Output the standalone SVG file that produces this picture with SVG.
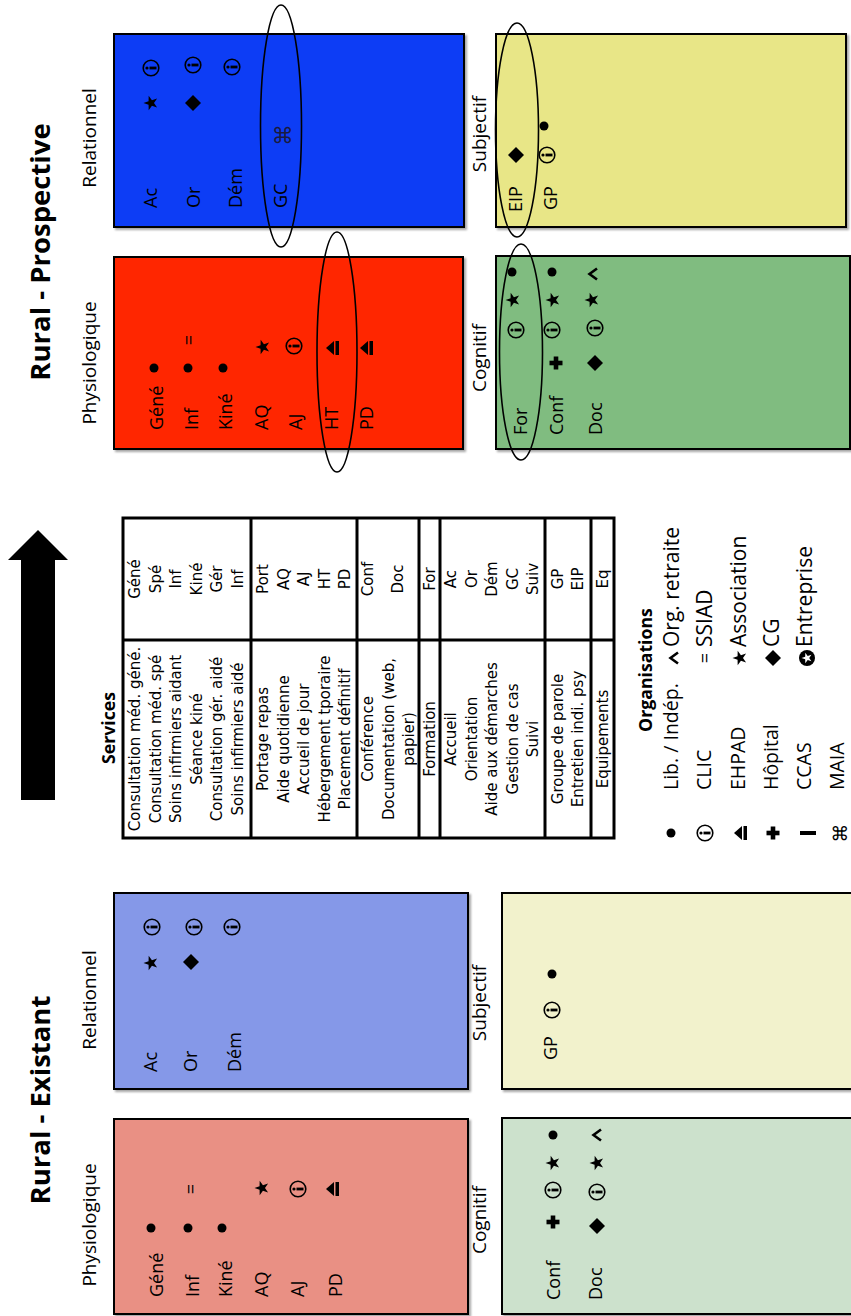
<svg xmlns="http://www.w3.org/2000/svg" xmlns:xlink="http://www.w3.org/1999/xlink" width="851" height="1316" viewBox="0 0 851 1316">
<defs>
<style>
text{font-family:'Open Sans','Liberation Sans',sans-serif;fill:#000}
.lbl{font-size:19px;text-anchor:middle}
.bx{font-size:18px}
.ttl{font-size:27.5px;font-weight:bold;text-anchor:middle}
.hdr{font-size:17.7px;font-weight:bold;text-anchor:middle}
.lg{font-size:19.5px}
.lg2{font-size:21px}
.tb{font-family:'DejaVu Sans',sans-serif;font-size:15px;text-anchor:middle}
.eq{font-size:18px;text-anchor:middle}
.cmd{font-family:'DejaVu Sans',sans-serif;text-anchor:middle}
.box{stroke:#000;stroke-width:2;filter:url(#sh)}
.ell{fill:none;stroke:#000;stroke-width:1.6}
.tline{stroke:#000;stroke-width:3;fill:none}
</style>
<filter id="sh" x="-10%" y="-10%" width="120%" height="120%">
<feDropShadow dx="-2" dy="2" stdDeviation="1.2" flood-color="#000" flood-opacity="0.35"/>
</filter>
<circle id="dot" r="4.5"/>
<polygon id="star" points="0,-7.5 1.76,-2.43 7.13,-2.32 2.85,0.93 4.41,6.07 0,3 -4.41,6.07 -2.85,0.93 -7.13,-2.32 -1.76,-2.43"/>
<polygon id="dia" points="0,-8 8,0 0,8 -8,0"/>
<g id="info"><circle r="7.8" fill="none" stroke="#000" stroke-width="1.6"/><circle cx="0" cy="-4" r="1.6"/><rect x="-1.4" y="-1.5" width="2.8" height="7"/></g>
<g id="eject"><polygon points="0,-7 7,1 -7,1"/><rect x="-7" y="2.5" width="14" height="3.5"/></g>
<g id="plus"><rect x="-6.5" y="-2.3" width="13" height="4.6"/><rect x="-2.3" y="-6.5" width="4.6" height="13"/></g>
<rect id="vbar" x="-2" y="-8" width="4" height="16"/>
<path id="caret" d="M-5.5,4 L0,-3.5 L5.5,4" fill="none" stroke="#000" stroke-width="2.6"/>
<g id="ent"><circle r="8"/><polygon fill="#fff" points="0,-5.5 1.3,-1.8 5.2,-1.7 2.1,0.7 3.2,4.4 0,2.2 -3.2,4.4 -2.1,0.7 -5.2,-1.7 -1.3,-1.8"/></g>
</defs>
<rect width="851" height="1316" fill="#fff"/>
<g transform="translate(0,1316) rotate(-90)">

<g id="title-existant"><text class="ttl" x="216" y="50">Rural - Existant</text></g>
<g id="title-prospective"><text class="ttl" x="1064" y="50">Rural - Prospective</text></g>

<!-- Existant Physiologique -->
<g id="ex-physio">
<text class="lbl" x="91" y="96">Physiologique</text>
<rect class="box" x="2" y="114" width="195" height="354" fill="#E99084"/>
<text class="bx" x="19" y="163">Géné</text>
<text class="bx" x="19" y="199">Inf</text>
<text class="bx" x="19" y="232">Kiné</text>
<text class="bx" x="19" y="268">AQ</text>
<text class="bx" x="19" y="304">AJ</text>
<text class="bx" x="19" y="342">PD</text>
<use href="#dot" x="88" y="151"/>
<use href="#dot" x="88" y="188"/>
<text class="eq" x="127" y="197">=</text>
<use href="#dot" x="88" y="222"/>
<use href="#star" x="128" y="262"/>
<use href="#info" x="127" y="298"/>
<use href="#eject" x="127" y="333"/>
</g>

<!-- Existant Relationnel -->
<g id="ex-relationnel">
<text class="lbl" x="316" y="96">Relationnel</text>
<rect class="box" x="227" y="114" width="196" height="354" fill="#8598E8"/>
<text class="bx" x="244" y="157">Ac</text>
<text class="bx" x="244" y="197">Or</text>
<text class="bx" x="244" y="241">Dém</text>
<use href="#star" x="353" y="151"/>
<use href="#info" x="389" y="152"/>
<use href="#dia" x="354" y="191"/>
<use href="#info" x="389" y="194"/>
<use href="#info" x="389" y="232"/>
</g>

<!-- Existant Cognitif -->
<g id="ex-cognitif">
<text class="lbl" x="96" y="486">Cognitif</text>
<rect class="box" x="2" y="502" width="196" height="356" fill="#CCE1CC"/>
<text class="bx" x="16" y="560">Conf</text>
<text class="bx" x="16" y="602">Doc</text>
<use href="#plus" x="94" y="553"/>
<use href="#info" x="126" y="553"/>
<use href="#star" x="153" y="553"/>
<use href="#dot" x="181" y="553"/>
<use href="#dia" x="90" y="597"/>
<use href="#info" x="124" y="597"/>
<use href="#star" x="153" y="597"/>
<use href="#caret" x="181" y="597"/>
</g>

<!-- Existant Subjectif -->
<g id="ex-subjectif">
<text class="lbl" x="313" y="486">Subjectif</text>
<rect class="box" x="227" y="502" width="196" height="356" fill="#F2F2CC"/>
<text class="bx" x="256" y="557">GP</text>
<use href="#info" x="306" y="552"/>
<use href="#dot" x="342" y="552"/>
</g>

<!-- Prospective Physiologique -->
<g id="pr-physio">
<text class="lbl" x="953" y="96">Physiologique</text>
<rect class="box" x="867" y="114" width="192" height="349" fill="#FF2800"/>
<text class="bx" x="886" y="163">Géné</text>
<text class="bx" x="886" y="198">Inf</text>
<text class="bx" x="886" y="232">Kiné</text>
<text class="bx" x="886" y="268">AQ</text>
<text class="bx" x="886" y="302">AJ</text>
<text class="bx" x="886" y="338">HT</text>
<text class="bx" x="886" y="373">PD</text>
<use href="#dot" x="948" y="154"/>
<use href="#dot" x="948" y="188"/>
<text class="eq" x="976" y="195">=</text>
<use href="#dot" x="948" y="223"/>
<use href="#star" x="969" y="263"/>
<use href="#info" x="970" y="294"/>
<use href="#eject" x="968" y="333"/>
<use href="#eject" x="968" y="367"/>
</g>

<!-- Prospective Relationnel -->
<g id="pr-relationnel">
<text class="lbl" x="1178" y="96">Relationnel</text>
<rect class="box" x="1089" y="114" width="193" height="350" fill="#0A3CF5"/>
<text class="bx" x="1108" y="157">Ac</text>
<text class="bx" x="1108" y="200">Or</text>
<text class="bx" x="1108" y="242">Dém</text>
<text class="bx" x="1108" y="287">GC</text>
<use href="#star" x="1213" y="151"/>
<use href="#info" x="1248" y="151"/>
<use href="#dia" x="1213" y="193"/>
<use href="#info" x="1251" y="193"/>
<use href="#info" x="1249" y="232"/>
<text class="cmd" x="1181" y="291" style="font-size:22px;fill:#1a1a40">⌘</text>
</g>

<!-- Prospective Cognitif -->
<g id="pr-cognitif">
<text class="lbl" x="958" y="486">Cognitif</text>
<rect class="box" x="867" y="496" width="193" height="354" fill="#80BC80"/>
<text class="bx" x="881" y="527">For</text>
<text class="bx" x="881" y="563">Conf</text>
<text class="bx" x="881" y="602">Doc</text>
<use href="#info" x="986" y="516"/>
<use href="#star" x="1016" y="513"/>
<use href="#dot" x="1044" y="512"/>
<use href="#plus" x="953" y="556"/>
<use href="#info" x="986" y="552"/>
<use href="#star" x="1016" y="553"/>
<use href="#dot" x="1044" y="552"/>
<use href="#dia" x="953" y="595"/>
<use href="#info" x="988" y="595"/>
<use href="#star" x="1016" y="592"/>
<use href="#caret" x="1042" y="593"/>
</g>

<!-- Prospective Subjectif -->
<g id="pr-subjectif">
<text class="lbl" x="1182" y="486">Subjectif</text>
<rect class="box" x="1089" y="496" width="193" height="350" fill="#E8E687"/>
<text class="bx" x="1104" y="522">EIP</text>
<text class="bx" x="1106" y="557">GP</text>
<use href="#dia" x="1161" y="516"/>
<use href="#info" x="1161" y="547"/>
<use href="#dot" x="1190" y="544"/>
</g>

<!-- Highlight ellipses -->
<g id="highlights">
<ellipse class="ell" cx="1190" cy="281" rx="121" ry="20.5"/>
<ellipse class="ell" cx="964" cy="337" rx="120" ry="20"/>
<ellipse class="ell" cx="964" cy="521" rx="108" ry="21.5"/>
<ellipse class="ell" cx="1186" cy="517" rx="107" ry="21.5"/>
</g>

<!-- Big arrow -->
<g id="arrow">
<polygon points="516,21 756,21 756,8 786,38 756,68 756,55 516,55" fill="#000"/>
</g>

<!-- Services table -->
<g id="services">
<text class="hdr" x="588" y="115">Services</text>
<rect class="tline" x="478" y="123" width="320" height="491"/>
<line class="tline" x1="676" y1="123" x2="676" y2="614"/>
<line class="tline" x1="478" y1="251" x2="798" y2="251"/>
<line class="tline" x1="478" y1="357" x2="798" y2="357"/>
<line class="tline" x1="478" y1="419" x2="798" y2="419"/>
<line class="tline" x1="478" y1="440" x2="798" y2="440"/>
<line class="tline" x1="478" y1="545" x2="798" y2="545"/>
<line class="tline" x1="478" y1="591" x2="798" y2="591"/>
<text class="tb" x="577" y="140">Consultation méd. géné.</text>
<text class="tb" x="577" y="160.5">Consultation méd. spé</text>
<text class="tb" x="577" y="181">Soins infirmiers aidant</text>
<text class="tb" x="577" y="201.5">Séance kiné</text>
<text class="tb" x="577" y="222">Consultation gér. aidé</text>
<text class="tb" x="577" y="242.5">Soins infirmiers aidé</text>
<text class="tb" x="737" y="140">Géné</text>
<text class="tb" x="737" y="160.5">Spé</text>
<text class="tb" x="737" y="181">Inf</text>
<text class="tb" x="737" y="201.5">Kiné</text>
<text class="tb" x="737" y="222">Gér</text>
<text class="tb" x="737" y="242.5">Inf</text>
<text class="tb" x="577" y="268">Portage repas</text>
<text class="tb" x="577" y="288.5">Aide quotidienne</text>
<text class="tb" x="577" y="309">Accueil de jour</text>
<text class="tb" x="577" y="329.5">Hébergement tporaire</text>
<text class="tb" x="577" y="350">Placement définitif</text>
<text class="tb" x="737" y="268">Port</text>
<text class="tb" x="737" y="288.5">AQ</text>
<text class="tb" x="737" y="309">AJ</text>
<text class="tb" x="737" y="329.5">HT</text>
<text class="tb" x="737" y="350">PD</text>
<text class="tb" x="577" y="373">Conférence</text>
<text class="tb" x="577" y="393.5">Documentation (web,</text>
<text class="tb" x="577" y="414">papier)</text>
<text class="tb" x="737" y="373">Conf</text>
<text class="tb" x="737" y="403">Doc</text>
<text class="tb" x="577" y="435">Formation</text>
<text class="tb" x="737" y="435">For</text>
<text class="tb" x="577" y="456">Accueil</text>
<text class="tb" x="577" y="476.5">Orientation</text>
<text class="tb" x="577" y="497">Aide aux démarches</text>
<text class="tb" x="577" y="517.5">Gestion de cas</text>
<text class="tb" x="577" y="538">Suivi</text>
<text class="tb" x="737" y="456">Ac</text>
<text class="tb" x="737" y="476.5">Or</text>
<text class="tb" x="737" y="497">Dém</text>
<text class="tb" x="737" y="517.5">GC</text>
<text class="tb" x="737" y="538">Suiv</text>
<text class="tb" x="577" y="563">Groupe de parole</text>
<text class="tb" x="577" y="583">Entretien indi. psy</text>
<text class="tb" x="737" y="563">GP</text>
<text class="tb" x="737" y="583">EIP</text>
<text class="tb" x="577" y="608">Equipements</text>
<text class="tb" x="737" y="608">Eq</text>
</g>

<!-- Organisations legend -->
<g id="organisations">
<text class="hdr" x="646" y="652">Organisations</text>
<use href="#dot" x="483" y="671"/>
<text class="lg" x="526" y="678">Lib. / Indép.</text>
<use href="#caret" x="658" y="674"/>
<text class="lg2" x="669" y="679">Org. retraite</text>
<use href="#info" x="483" y="705"/>
<text class="lg" x="526" y="711">CLIC</text>
<text class="eq" x="658" y="711">=</text>
<text class="lg2" x="669" y="712">SSIAD</text>
<use href="#eject" x="483" y="741"/>
<text class="lg" x="526" y="745">EHPAD</text>
<use href="#star" x="658" y="740"/>
<text class="lg2" x="669" y="746">Association</text>
<use href="#plus" x="483" y="773"/>
<text class="lg" x="526" y="778">Hôpital</text>
<use href="#dia" x="658" y="773"/>
<text class="lg2" x="669" y="779">CG</text>
<use href="#vbar" x="483" y="808"/>
<text class="lg" x="526" y="811">CCAS</text>
<use href="#ent" x="658" y="807"/>
<text class="lg2" x="669" y="812">Entreprise</text>
<text class="cmd" x="483" y="847" style="font-size:19px">⌘</text>
<text class="lg" x="526" y="844">MAIA</text>
</g>

</g>
</svg>
